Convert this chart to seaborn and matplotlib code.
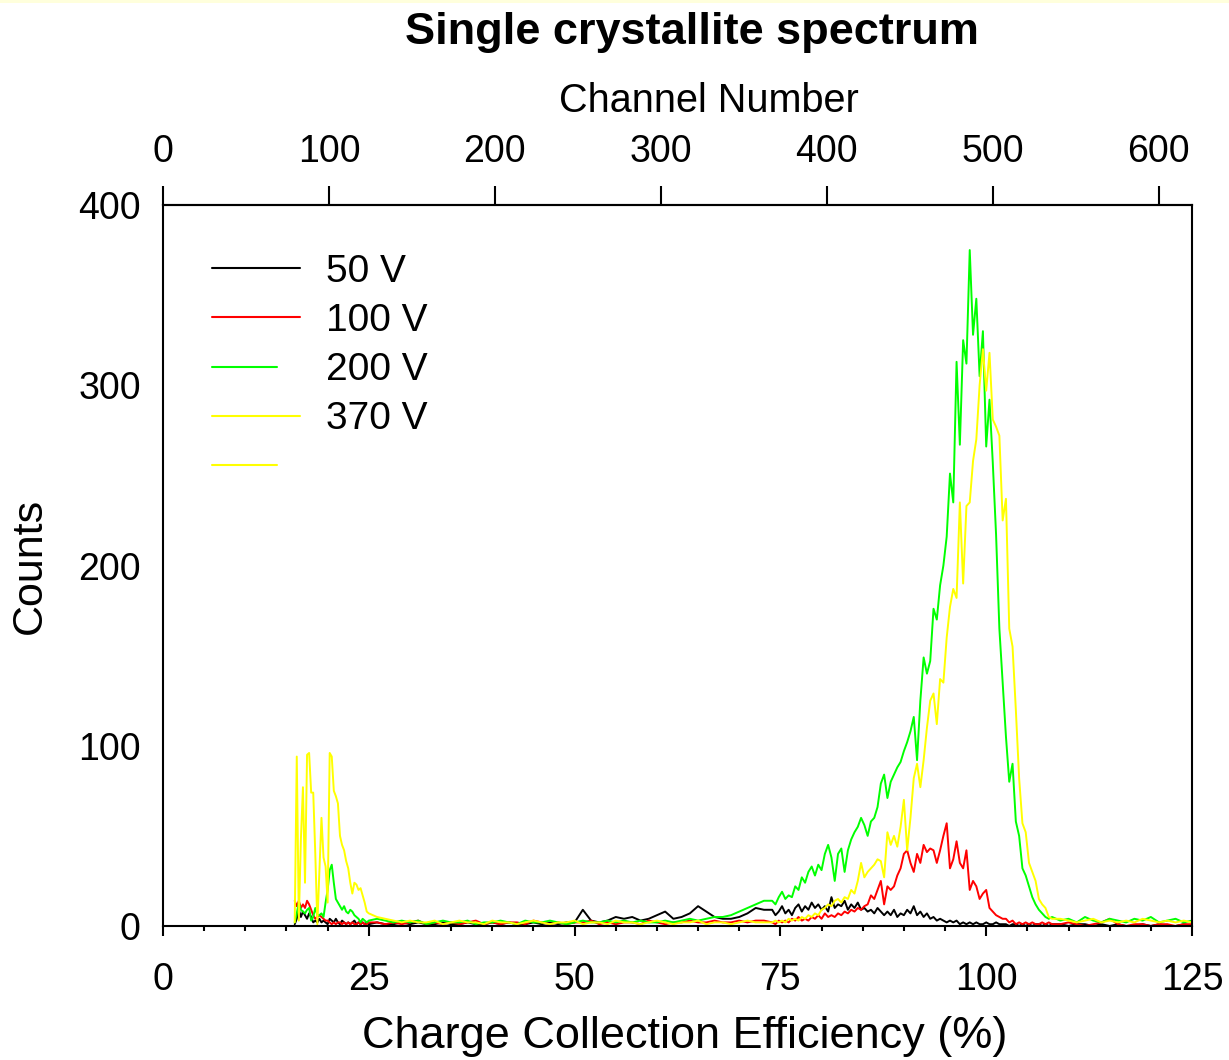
import numpy as np
import pandas as pd
import matplotlib
matplotlib.use("Agg")
import matplotlib.pyplot as plt
from matplotlib.lines import Line2D
from matplotlib.patches import Rectangle
from matplotlib.ticker import MultipleLocator
import seaborn as sns

# ---------------- data ----------------
# x grid: charge collection efficiency (%) — finer around the features
cce = np.round(np.concatenate([
    np.arange(64, 101) / 4.0,          # 16.0 .. 25.0 step 0.25
    np.arange(26, 74).astype(float),   # 26 .. 73 step 1
    np.arange(185, 271) * 0.4,         # 74.0 .. 108.0 step 0.4
    np.arange(109, 126).astype(float)  # 109 .. 125 step 1
]), 2)

bias_labels = ["50 V", "100 V", "200 V", "370 V"]
bias_colors = ["#000000", "#ff0000", "#00ff00", "#ffff00"]

counts_50v = (
    [1, 4, 9, 5, 8, 6, 4, 7, 5, 2, 3, 2, 4, 2, 3, 2, 1, 4, 3, 2, 4, 2, 1, 3, 2, 1, 2, 1, 2, 3, 1, 2, 1, 2, 1, 2, 1]
    + [2, 1, 1, 2, 1, 2, 1, 1, 2, 1, 1, 2, 1, 1, 2, 1, 2, 1, 1, 2, 1, 2, 1, 2, 2, 9, 3, 2, 3, 5,
       4, 5, 3, 4, 6, 8, 4, 5, 7, 11, 8, 5, 4, 4, 5, 7, 10, 9]
    + [9, 6, 8, 11, 7, 9, 6, 10, 12, 8, 11, 9, 13, 10, 12, 9, 11, 8, 16, 10,
       12, 11, 14, 9, 12, 10, 13, 9, 10, 8, 9, 7, 10, 8, 6, 8, 6, 9, 5, 7,
       6, 9, 7, 11, 6, 8, 5, 7, 4, 5, 3, 4, 3, 2, 3, 2, 3, 1, 2, 1,
       2, 1, 2, 1, 1, 2, 1, 1, 2, 1, 1, 1, 0, 1, 1, 0, 1, 0, 1, 0, 1, 1, 0, 1, 0, 1]
    + [1, 0, 1, 1, 0, 1, 0, 1, 0, 0, 1, 0, 1, 0, 0, 1, 0]
)
counts_100v = (
    [14, 11, 14, 10, 12, 10, 14, 12, 9, 6, 4, 5, 6, 5, 4, 3, 3, 2, 1, 2, 1, 2, 2, 1, 2, 1, 2, 1, 2, 1, 1, 2, 1, 2, 1, 1, 2]
    + [2, 1, 2, 1, 2, 3, 1, 2, 1, 2, 1, 2, 3, 1, 2, 1, 2, 2, 1, 3, 2, 1, 2, 1, 2, 2, 3, 1, 2, 1,
       2, 2, 1, 3, 2, 1, 2, 2, 3, 2, 2, 3, 2, 2, 3, 2, 3, 3]
    + [2, 1, 3, 2, 3, 2, 4, 3, 5, 3, 4, 3, 5, 4, 6, 4, 7, 5, 6, 5,
       7, 6, 8, 7, 9, 8, 10, 9, 11, 12, 17, 15, 20, 25, 12, 22, 20, 22, 28, 32,
       40, 42, 35, 30, 40, 35, 45, 41, 43, 42, 35, 42, 50, 57, 32, 37, 47, 35, 32, 42,
       20, 25, 22, 15, 18, 20, 10, 8, 6, 5, 4, 4, 2, 3, 1, 2, 1, 2, 1, 2, 1, 1, 2, 1, 2, 1]
    + [1, 2, 1, 0, 1, 2, 4, 1, 0, 1, 1, 0, 1, 1, 0, 1, 1]
)
counts_200v = (
    [2, 7, 13, 9, 8, 7, 9, 10, 3, 5, 10, 6, 6, 7, 5, 13, 20, 31, 34, 24, 15, 13, 11, 9, 11, 8, 7, 9, 8, 6, 5, 4, 2, 4, 3, 2, 3]
    + [4, 3, 2, 3, 2, 3, 1, 2, 3, 2, 2, 3, 1, 2, 2, 3, 2, 1, 3, 2, 2, 3, 2, 1, 2, 3, 2, 2, 3, 2,
       3, 2, 3, 2, 2, 3, 2, 3, 4, 3, 4, 5, 5, 6, 8, 10, 12, 14]
    + [14, 12, 16, 19, 15, 17, 16, 22, 20, 27, 24, 30, 33, 28, 34, 31, 40, 45, 38, 25,
       40, 43, 30, 42, 48, 52, 55, 60, 56, 50, 58, 60, 66, 79, 84, 71, 80, 84, 88, 91,
       97, 102, 108, 116, 92, 125, 149, 140, 147, 176, 170, 189, 200, 216, 251, 235, 313, 267, 325, 312,
       375, 328, 348, 305, 330, 266, 292, 257, 217, 165, 135, 105, 80, 90, 58, 50, 32, 28, 22, 16,
       12, 9, 7, 5, 4, 5]
    + [3, 4, 2, 5, 3, 2, 4, 3, 2, 4, 3, 5, 2, 3, 4, 2, 3]
)
counts_370v = (
    [2, 94, 3, 48, 77, 24, 95, 96, 74, 74, 40, 1, 30, 60, 38, 33, 13, 96, 94, 75, 72, 68, 50, 45, 42, 36, 32, 24, 18, 24, 23, 20, 21, 17, 13, 8, 7]
    + [5, 4, 3, 2, 3, 2, 2, 3, 1, 2, 3, 2, 2, 1, 3, 2, 2, 1, 2, 3, 2, 1, 2, 2, 3, 1, 2, 2, 1, 3,
       2, 2, 1, 2, 3, 2, 1, 2, 2, 3, 1, 2, 2, 1, 2, 3, 2, 2]
    + [2, 3, 2, 3, 2, 4, 3, 4, 3, 5, 4, 6, 5, 7, 6, 9, 10, 12, 11, 14,
       15, 13, 16, 15, 20, 18, 25, 35, 27, 30, 32, 34, 37, 36, 27, 52, 45, 50, 44, 55,
       70, 42, 60, 82, 90, 77, 92, 110, 125, 129, 112, 137, 135, 160, 177, 187, 182, 235, 190, 233,
       235, 258, 270, 300, 320, 297, 318, 281, 277, 272, 225, 237, 165, 155, 120, 82, 57, 52, 35, 30,
       25, 15, 12, 10, 5, 4]
    + [4, 3, 2, 3, 4, 2, 3, 2, 3, 2, 4, 3, 2, 3, 2, 3, 2]
)

x_major = [0, 25, 50, 75, 100, 125]
y_major = [0, 100, 200, 300, 400]
channel_ticks = [0, 100, 200, 300, 400, 500, 600]
channels_per_percent = 4.96

# ---------------- figure ----------------
sns.set_style("white")
plt.rcParams["font.family"] = ["Liberation Sans", "DejaVu Sans"]
plt.rcParams.update({"text.color": "black", "axes.labelcolor": "black",
                     "xtick.color": "black", "ytick.color": "black"})

fig = plt.figure(figsize=(12.29, 10.60), dpi=100)
ax = fig.add_axes([163 / 1229, 1 - 926 / 1060, (1192 - 163) / 1229, (926 - 205) / 1060])

df = pd.DataFrame({
    "cce": np.tile(cce, 4),
    "counts": counts_50v + counts_100v + counts_200v + counts_370v,
    "bias": np.repeat(bias_labels, len(cce)),
})
sns.lineplot(data=df, x="cce", y="counts", hue="bias", hue_order=bias_labels,
             palette=dict(zip(bias_labels, bias_colors)), estimator=None,
             sort=False, lw=1.4, legend=False, ax=ax)

ax.set_xlim(0, 125)
ax.set_ylim(0, 400)
ax.set_xticks(x_major)
ax.xaxis.set_minor_locator(MultipleLocator(5))
ax.set_yticks(y_major)
ax.tick_params(axis="x", which="major", direction="out", length=7, width=1.5,
               labelsize=27, pad=19, bottom=True, top=False, colors="black")
ax.tick_params(axis="x", which="minor", direction="out", length=3.5, width=1.5,
               bottom=True, top=False, colors="black")
ax.tick_params(axis="y", which="both", length=0, labelsize=27, pad=16, left=True,
               right=False, colors="black")
for s in ax.spines.values():
    s.set_visible(True)
    s.set_color("black")
    s.set_linewidth(1.5)

ax.set_xlabel("Charge Collection Efficiency (%)", fontsize=32.5, labelpad=13, color="black")
ax.xaxis.label.set_x((685 - 163) / 1029)
ax.set_ylabel("Counts", fontsize=31, labelpad=20, color="black")

top = ax.secondary_xaxis("top", functions=(lambda p: p * channels_per_percent,
                                           lambda c: c / channels_per_percent))
top.set_xticks(channel_ticks)
top.tick_params(axis="x", direction="out", length=14, width=1.5, labelsize=27, pad=11,
                colors="black")
top.spines["top"].set_linewidth(1.5)
top.spines["top"].set_color("black")
top.set_xlabel("Channel Number", fontsize=28.5, labelpad=16, color="black")
top.xaxis.label.set_x((709 - 163) / 1029)

# legend
handles = [Line2D([], [], color=c, lw=1.5) for c in bias_colors]
handles.append(Line2D([], [], color=bias_colors[3], lw=1.5))
leg = ax.legend(handles=handles, labels=bias_labels + [""], loc="upper left",
                bbox_to_anchor=(0.0476, 0.9325), frameon=False, fontsize=28,
                handlelength=2.27, handletextpad=0.66, labelspacing=0.34,
                borderpad=0, borderaxespad=0)
for t in leg.get_texts():
    t.set_color("black")
for i in (2, 4):
    ln = leg.get_lines()[i]
    xd = np.asarray(ln.get_xdata(), dtype=float)
    ln.set_xdata(xd[0] + 0.74 * (xd - xd[0]))

fig.text(692 / 1229, 1 - 12 / 1060, "Single crystallite spectrum", ha="center", va="top",
         fontsize=32.5, fontweight="bold", color="black")
fig.add_artist(Rectangle((0, 1 - 3 / 1060), 1, 3 / 1060, transform=fig.transFigure,
                         color="#ffffdc", lw=0))

fig.savefig("out.png", dpi=100)
